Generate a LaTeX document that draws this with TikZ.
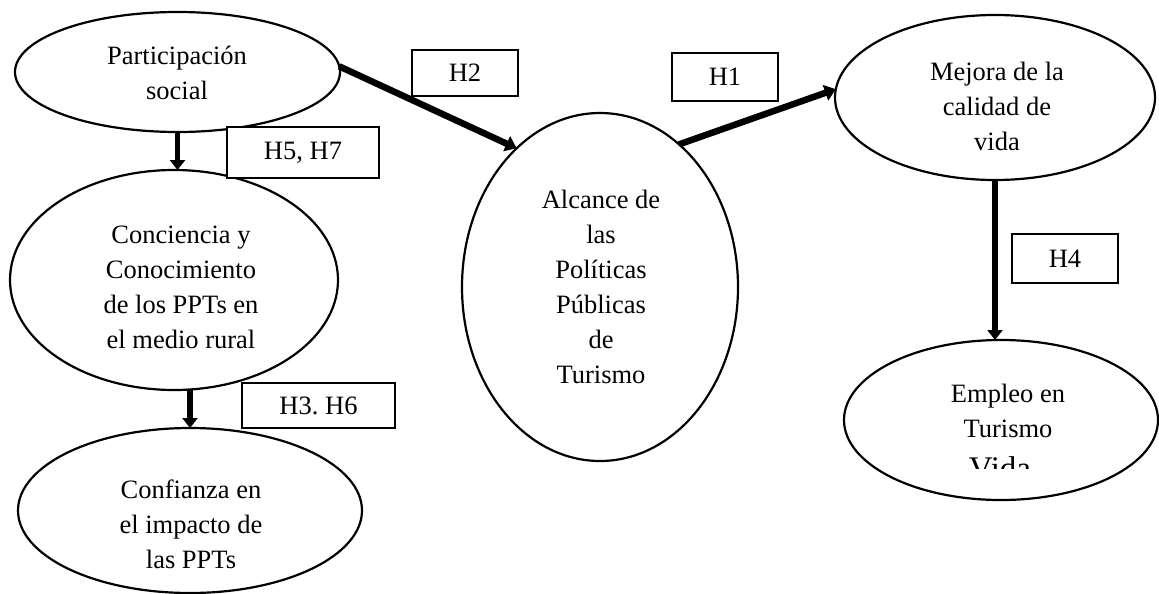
\documentclass[tikz,border=0pt]{standalone}
\usepackage{fontspec}
\setmainfont{Liberation Serif}
\usetikzlibrary{shapes.geometric,arrows.meta}
\begin{document}
\frenchspacing
\begin{tikzpicture}[x=1pt,y=-1pt,
  oval/.style={ellipse,draw,line width=2.2pt,inner sep=0pt,outer sep=0pt},
  txt/.style={align=center,font=\fontsize{26.5}{35}\selectfont,inner sep=0pt},
  hbox/.style={draw,line width=1.3pt,fill=white,font=\fontsize{26.5}{32}\selectfont,inner sep=0pt},
  link/.style={line width=6.5pt,-{Triangle[width=16pt,length=11pt]}},
  vlink/.style={line width=5.5pt,-{Triangle[width=15pt,length=10pt]}}]
\useasboundingbox (0,0) rectangle (1159,594);
% ellipses
\node[oval,minimum width=325pt,minimum height=120pt] (e1) at (177.5,72) {};
\node[oval,minimum width=328pt,minimum height=220pt] (e2) at (174,280) {};
\node[oval,minimum width=344pt,minimum height=165pt] (e3) at (190,510.5) {};
\node[oval,minimum width=276pt,minimum height=348pt] (e4) at (600,287) {};
\node[oval,minimum width=320pt,minimum height=165pt] (e5) at (995,97.5) {};
\node[oval,minimum width=314pt,minimum height=160pt] (e6) at (1001,420) {};
% texts
\node[txt] (t1) at (177,72.5) {Participación\\social};
\node[txt] (t2) at (181,287) {Conciencia y\\Conocimiento\\de los PPTs en\\el medio rural};
\node[txt] (t3) at (191,524) {Confianza en\\el impacto de\\las PPTs};
\node[txt] (t4) at (601,286.5) {Alcance de\\las\\Políticas\\Públicas\\de\\Turismo};
\node[txt] (t5) at (997,106) {Mejora de la\\calidad de\\vida};
\node[txt] (t6) at (1008,410.5) {Empleo en\\Turismo};
\begin{scope}
  \clip (845,300) rectangle (1159,468);
  \node[anchor=base,inner sep=0pt,font=\fontsize{33}{38}\selectfont] (t7) at (1000,479) {Vida};
\end{scope}
% label boxes
\node[hbox,minimum width=106pt,minimum height=46pt] (h2) at (465,73) {H2};
\node[hbox,minimum width=106pt,minimum height=48pt] (h1) at (725,77) {H1};
\node[hbox,minimum width=152pt,minimum height=51pt] (h57) at (303,152.5) {H5, H7};
\node[hbox,minimum width=153pt,minimum height=45pt] (h36) at (318.5,405.5) {H3.\ H6};
\node[hbox,minimum width=106pt,minimum height=49pt] (h4) at (1065,258.5) {H4};
% arrows
\draw[link] (e1.2) -- (e4.121);
\draw[link] (e4.61) -- (e5.177);
\draw[vlink] (e1.south) -- (e1.south |- e2.north);
\draw[vlink] (e3.north |- e2.south) -- (e3.north);
\draw[vlink] (e5.south) -- (e5.south |- e6.north);
\end{tikzpicture}
\end{document}
